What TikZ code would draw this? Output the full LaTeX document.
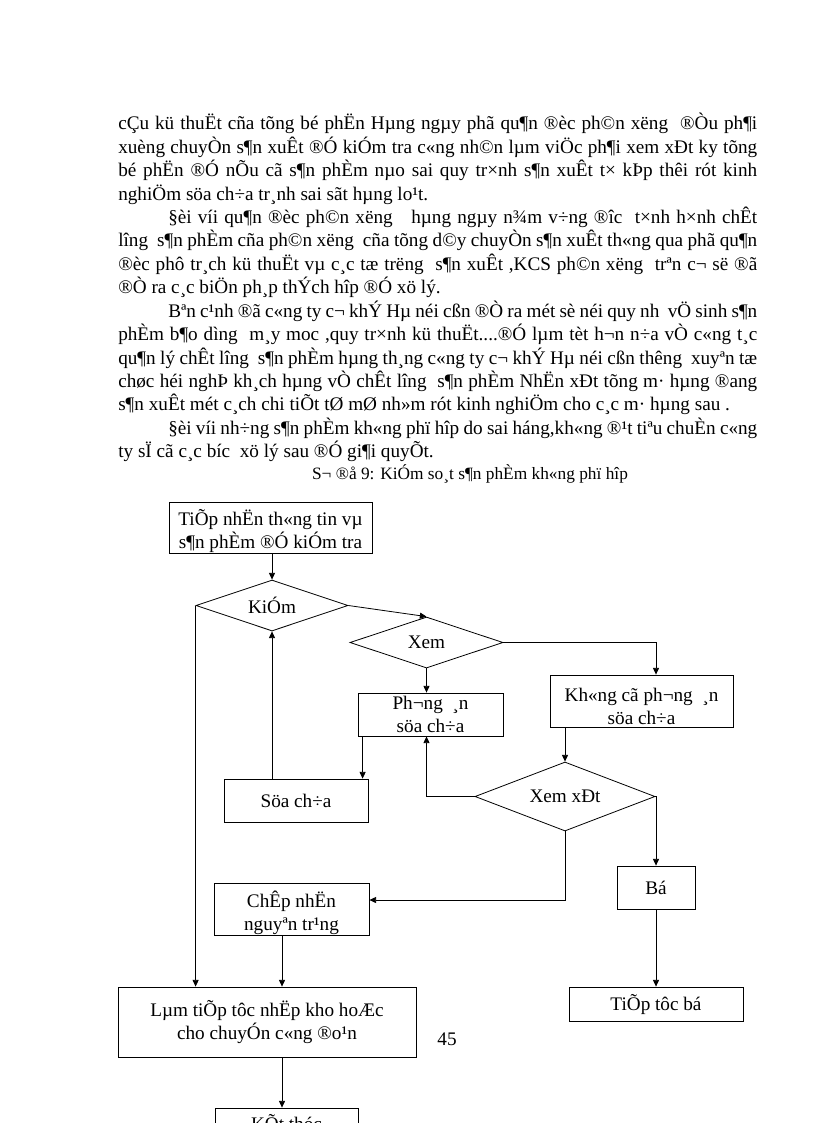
\documentclass[tikz,border=0pt]{standalone}
\usepackage{fontspec}
\setmainfont{Liberation Serif}
\usetikzlibrary{shapes.geometric,arrows.meta,calc}
\newcommand\fullline[1]{\makebox[479.25pt][s]{#1}}
\newcommand\indline[1]{\makebox[441.75pt][s]{#1}}
\newcommand\topstrut{\rule{0pt}{18pt}}
\begin{document}
\begin{tikzpicture}[x=0.75pt,y=-0.75pt,
  txt/.style={inner sep=0pt,font=\fontsize{14.4}{17}\selectfont},
  box/.style={draw,line width=0.6pt,inner sep=0pt,align=center,font=\fontsize{14.4}{17.25}\selectfont},
  dia/.style={diamond,shape aspect=3,draw,line width=0.6pt,inner sep=0pt,font=\fontsize{14.4}{16.5}\selectfont},
  arr/.style={line width=0.6pt,-{Triangle[length=5pt,width=4.5pt]}}]
\useasboundingbox (0,0) rectangle (816,1123);
\clip (0,0) rectangle (816,1123);
\fill[white] (0,0) rectangle (816,1123);
% body text
\node[txt,anchor=base west] (l1) at (118,130) {\fullline{cÇu kü thuËt cña tõng bé phËn Hµng ngµy phã qu¶n ®èc ph©n xëng\ \ ®Òu ph¶i}};
\node[txt,anchor=base west] (l2) at (118,153.4) {\fullline{xuèng chuyÒn s¶n xuÊt ®Ó kiÓm tra c«ng nh©n lµm viÖc ph¶i xem xÐt ky tõng}};
\node[txt,anchor=base west] (l3) at (118,176.8) {\fullline{bé phËn ®Ó nÕu cã s¶n phÈm nµo sai quy tr×nh s¶n xuÊt t× kÞp thêi rót kinh}};
\node[txt,anchor=base west] (l4) at (118,200.2) {nghiÖm söa ch÷a tr¸nh sai sãt hµng lo¹t.};
\node[txt,anchor=base west] (l5) at (168,223.6) {\indline{§èi víi qu¶n ®èc ph©n xëng\ \ \ hµng ngµy n¾m v÷ng ®îc\ \ t×nh h×nh chÊt}};
\node[txt,anchor=base west] (l6) at (118,247) {\fullline{lîng\ \ s¶n phÈm cña ph©n xëng\ \ cña tõng d©y chuyÒn s¶n xuÊt th«ng qua phã qu¶n}};
\node[txt,anchor=base west] (l7) at (118,270.4) {\fullline{®èc phô tr¸ch kü thuËt vµ c¸c tæ trëng\ \ s¶n xuÊt ,KCS ph©n xëng\ \ trªn c¬ së ®ã}};
\node[txt,anchor=base west] (l8) at (118,293.8) {®Ò ra c¸c biÖn ph¸p thÝch hîp ®Ó xö lý.};
\node[txt,anchor=base west] (l9) at (168,317.2) {\indline{Bªn c¹nh ®ã c«ng ty c¬ khÝ Hµ néi cßn ®Ò ra mét sè néi quy nh\ \ vÖ sinh s¶n}};
\node[txt,anchor=base west] (l10) at (118,340.6) {\fullline{phÈm b¶o dìng\ \ m¸y moc ,quy tr×nh kü thuËt....®Ó lµm tèt h¬n n÷a vÒ c«ng t¸c}};
\node[txt,anchor=base west] (l11) at (118,364) {\fullline{qu¶n lý chÊt lîng\ \ s¶n phÈm hµng th¸ng c«ng ty c¬ khÝ Hµ néi cßn thêng\ \ xuyªn tæ}};
\node[txt,anchor=base west] (l12) at (118,387.4) {\fullline{chøc héi nghÞ kh¸ch hµng vÒ chÊt lîng\ \ s¶n phÈm NhËn xÐt tõng m· hµng ®ang}};
\node[txt,anchor=base west] (l13) at (118,410.8) {s¶n xuÊt mét c¸ch chi tiÕt tØ mØ nh»m rót kinh nghiÖm cho c¸c m· hµng sau .};
\node[txt,anchor=base west] (l14) at (168,434.2) {\indline{§èi víi nh÷ng s¶n phÈm kh«ng phï hîp do sai háng,kh«ng ®¹t tiªu chuÈn c«ng}};
\node[txt,anchor=base west] (l15) at (118,457.6) {ty sÏ cã c¸c bíc\ \ xö lý sau ®Ó gi¶i quyÕt.};
\node[txt,anchor=base,font=\fontsize{13}{15}\selectfont] (cap) at (470,479) {S¬ ®å 9: KiÓm so¸t s¶n phÈm kh«ng phï hîp};
% flowchart
\node[box,minimum width=152.25pt,minimum height=38.25pt] (b1) at (270.5,527.5) {\topstrut TiÕp nhËn th«ng tin vµ\\s¶n phÈm ®Ó kiÓm tra};
\node[dia,minimum width=114pt,minimum height=38.25pt] (kiem) at (272,605.5) {KiÓm};
\node[dia,minimum width=114.75pt,minimum height=38.25pt] (xem) at (426.5,642.5) {Xem};
\node[box,minimum width=108.75pt,minimum height=32.25pt] (pa) at (430.5,714.5) {Ph¬ng\ \ ¸n\\söa ch÷a};
\node[box,minimum width=137.25pt,minimum height=39pt] (kpa) at (641.5,701) {\topstrut Kh«ng cã ph¬ng\ \ ¸n\\söa ch÷a};
\node[box,minimum width=108pt,minimum height=32.25pt] (sua) at (296,800.5) {Söa ch÷a};
\node[dia,minimum width=135pt,minimum height=51.75pt] (xx) at (565,796.5) {Xem xÐt};
\node[box,minimum width=58.5pt,minimum height=32.25pt] (bo) at (656,887.5) {Bá};
\node[box,minimum width=116.25pt,minimum height=39pt] (cn) at (291.5,909) {\topstrut ChÊp nhËn\\nguyªn tr¹ng};
\node[box,minimum width=223.5pt,minimum height=52.5pt] (lt) at (267,1022) {Lµm tiÕp tôc nhËp kho hoÆc\\cho chuyÓn c«ng ®o¹n};
\node[box,minimum width=130.5pt,minimum height=25.5pt] (tb) at (656,1004) {TiÕp tôc bá};
\node[box,minimum width=107.25pt,minimum height=22.5pt] (kt) at (286.5,1123) {KÕt thóc};
\node[txt] (pg) at (447,1039) {45};
% connectors
\draw[arr] (b1.south -| kiem.north) -- (kiem.north);
\draw[arr] (kiem.east) -- (xem.north);
\draw[arr] (xem.east) -| (kpa.north -| bo.north);
\draw[arr] (xem.south) -- (xem.south |- pa.north);
\coordinate (pa1) at ($(pa.south west)+(5,0)$);
\draw[arr] (pa1) -- (pa1 |- sua.north);
\draw[arr] (sua.north -| kiem.south) -- (kiem.south);
\draw[arr] (kiem.west) -- (kiem.west |- lt.north);
\draw[arr] (kpa.south -| xx.north) -- (xx.north);
\draw[arr] (xx.west) -| (xem.south |- pa.south);
\draw[arr] (xx.east) -| (bo.north);
\coordinate (xxd) at ($(cn.east)+(0,-9)$);
\draw[arr] (xx.south) |- (xxd);
\coordinate (cn1) at ($(cn.south)+(-9.5,0)$);
\draw[arr] (cn1) -- (cn1 |- lt.north);
\draw[arr] (bo.south) -- (tb.north);
\draw[arr] (cn1 |- lt.south) -- (cn1 |- kt.north);
\end{tikzpicture}
\end{document}
